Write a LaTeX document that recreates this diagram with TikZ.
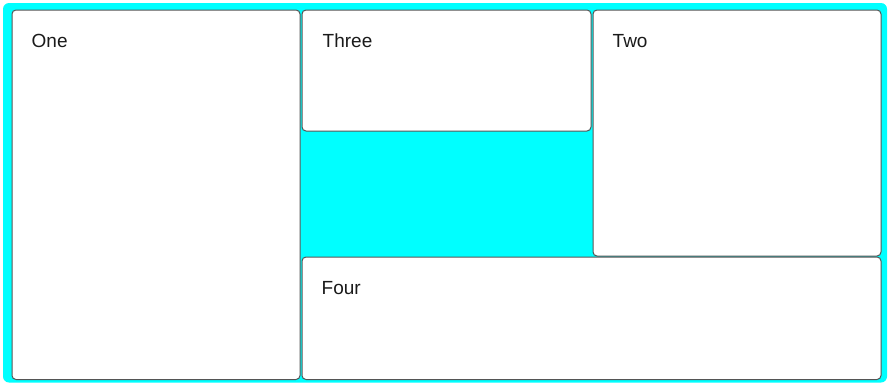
\documentclass[tikz,border=0pt]{standalone}
\usepackage{fontspec}
\setmainfont{Liberation Sans}
\usepackage{tikz}
\usetikzlibrary{positioning, calc}
\definecolor{fondcyan}{HTML}{00FFFF}
\definecolor{bord}{HTML}{555555}
\definecolor{texte}{HTML}{1A1A1A}
\tikzset{
  cadre/.style={rectangle, rounded corners=6pt, fill=fondcyan, draw=none},
  boite/.style={rectangle, rounded corners=4pt, draw=bord, fill=white,
    line width=1pt, inner sep=0pt},
  titre/.style={font=\fontsize{19}{21}\selectfont, text=texte,
    anchor=base west, inner sep=0pt}
}

\begin{document}
\begin{tikzpicture}[x=1pt, y=-1pt]
    \useasboundingbox (0, 0) rectangle (891, 383);
    \fill[white] (0, 0) rectangle (891, 383);
    \path[cadre] (3, 3) rectangle (887, 382.5);

    \node[boite, minimum width=288pt, minimum height=369.5pt] (un) at (156, 194.75) {};
    \node[boite, minimum width=289pt, minimum height=121pt] (trois) at (446.5, 70.5) {};
    \node[boite, minimum width=288pt, minimum height=246pt] (deux) at (737, 133) {};
    \node[boite, minimum width=579pt, minimum height=122.5pt] (quatre) at (591.5, 318.25) {};

    \node[titre] (tun) at ($(un.north west) + (20, 38)$) {One};
    \node[titre] (ttrois) at ($(trois.north west) + (21, 38)$) {Three};
    \node[titre] (tdeux) at ($(deux.north west) + (20, 38)$) {Two};
    \node[titre] (tquatre) at ($(quatre.north west) + (20, 38)$) {Four};
  \end{tikzpicture}
\end{document}
